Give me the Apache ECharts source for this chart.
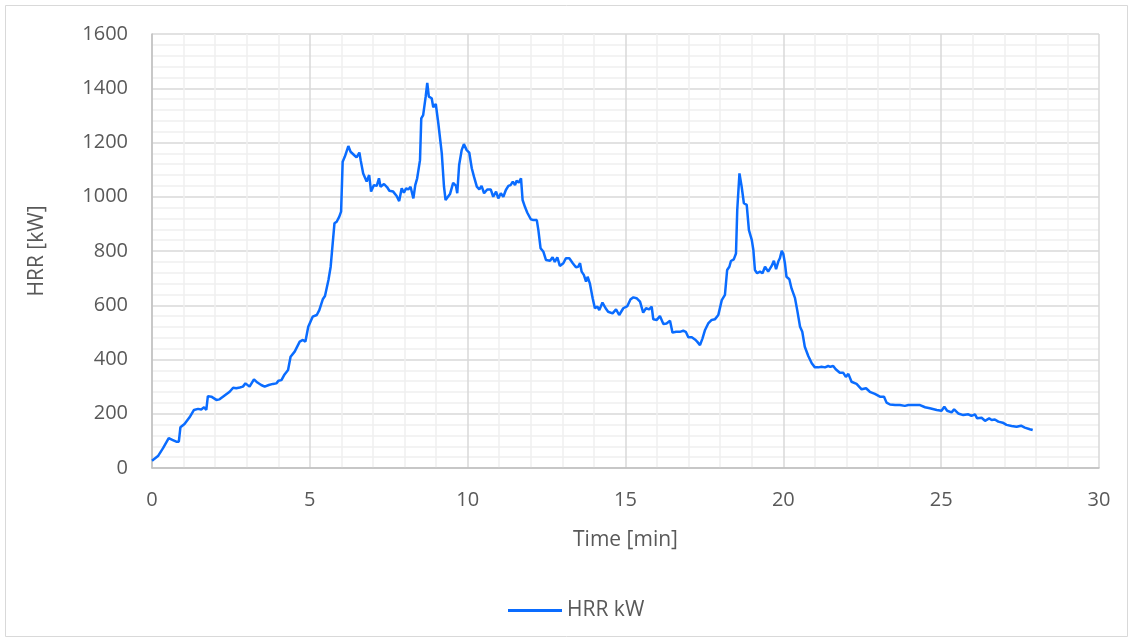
<!DOCTYPE html>
<html>
<head>
<meta charset="utf-8">
<script src="https://cdn.jsdelivr.net/npm/echarts@6/dist/echarts.min.js"></script>
<style>
  html, body { margin: 0; padding: 0; background: #ffffff; }
  #chart { width: 1134px; height: 643px; }
</style>
</head>
<body>
<div id="chart"></div>
<script>
// Heat release rate measurement: time in minutes, HRR in kW
const timeMin = [
  0.00, 0.19, 0.35, 0.53, 0.66, 0.77, 0.85, 0.90, 1.03, 1.19, 1.33, 1.46, 1.56, 1.65, 1.72, 1.77, 1.88, 2.04, 2.14, 2.30,
  2.46, 2.57, 2.67, 2.78, 2.88, 2.96, 3.02, 3.09, 3.23, 3.34, 3.46, 3.57, 3.70, 3.83, 3.94, 4.01, 4.10, 4.20, 4.31, 4.39,
  4.52, 4.68, 4.78, 4.86, 4.95, 5.09, 5.22, 5.30, 5.41, 5.48, 5.59, 5.66, 5.72, 5.78, 5.85, 5.93, 5.99, 6.04, 6.11, 6.22,
  6.29, 6.40, 6.48, 6.57, 6.61, 6.69, 6.80, 6.88, 6.94, 7.03, 7.12, 7.19, 7.24, 7.35, 7.45, 7.52, 7.64, 7.75, 7.83, 7.91,
  7.98, 8.05, 8.12, 8.19, 8.28, 8.34, 8.40, 8.49, 8.53, 8.59, 8.67, 8.72, 8.77, 8.86, 8.91, 8.99, 9.07, 9.18, 9.25, 9.30,
  9.35, 9.44, 9.54, 9.63, 9.67, 9.73, 9.81, 9.88, 9.97, 10.05, 10.13, 10.20, 10.29, 10.37, 10.44, 10.52, 10.62, 10.73, 10.81, 10.90,
  10.97, 11.05, 11.13, 11.21, 11.29, 11.36, 11.43, 11.50, 11.55, 11.62, 11.69, 11.74, 11.82, 11.89, 12.00, 12.08, 12.19, 12.24, 12.31, 12.40,
  12.48, 12.61, 12.69, 12.76, 12.84, 12.92, 13.03, 13.11, 13.22, 13.33, 13.43, 13.50, 13.56, 13.61, 13.68, 13.75, 13.80, 13.87, 13.96, 14.03,
  14.11, 14.17, 14.27, 14.37, 14.45, 14.59, 14.70, 14.80, 14.93, 15.06, 15.16, 15.25, 15.35, 15.46, 15.56, 15.65, 15.75, 15.83, 15.88, 15.99,
  16.09, 16.20, 16.30, 16.41, 16.49, 16.60, 16.72, 16.83, 16.91, 16.99, 17.10, 17.20, 17.27, 17.36, 17.44, 17.52, 17.62, 17.73, 17.83, 17.94,
  18.05, 18.15, 18.22, 18.29, 18.34, 18.43, 18.50, 18.54, 18.61, 18.68, 18.75, 18.84, 18.91, 19.00, 19.05, 19.10, 19.17, 19.26, 19.34, 19.42,
  19.52, 19.63, 19.70, 19.77, 19.84, 19.89, 19.95, 20.00, 20.05, 20.10, 20.19, 20.26, 20.37, 20.44, 20.53, 20.60, 20.68, 20.79, 20.90, 21.00,
  21.11, 21.21, 21.32, 21.42, 21.49, 21.58, 21.66, 21.79, 21.90, 21.98, 22.06, 22.16, 22.32, 22.48, 22.62, 22.74, 22.90, 23.06, 23.19, 23.27,
  23.38, 23.54, 23.69, 23.85, 23.96, 24.12, 24.33, 24.49, 24.64, 24.86, 25.01, 25.10, 25.19, 25.33, 25.41, 25.54, 25.70, 25.86, 25.96, 26.07,
  26.14, 26.28, 26.39, 26.52, 26.60, 26.70, 26.81, 26.95, 27.07, 27.23, 27.39, 27.53, 27.65, 27.81, 27.90
];
const hrrKW = [
  27, 44, 73, 110, 103, 97, 97, 150, 162, 187, 214, 218, 216, 224, 214, 265, 263, 251, 253, 267,
  281, 296, 294, 297, 300, 312, 310, 300, 327, 315, 306, 300, 306, 310, 312, 322, 324, 345, 361, 410,
  429, 466, 472, 466, 521, 558, 564, 582, 622, 634, 693, 742, 748, 902, 908, 926, 945, 1129, 1148, 1187,
  1166, 1154, 1145, 1163, 1135, 1086, 1056, 1080, 1019, 1043, 1040, 1068, 1037, 1047, 1035, 1022, 1019, 1003, 984, 1031,
  1015, 1031, 1027, 1037, 994, 1043, 1068, 1135, 1289, 1301, 1369, 1420, 1369, 1363, 1330, 1342, 1271, 1160, 1037, 988,
  985, 1010, 1051, 1040, 1013, 1117, 1172, 1194, 1172, 1163, 1105, 1074, 1037, 1027, 1040, 1013, 1027, 1027, 1000, 1019,
  994, 1013, 1000, 1025, 1040, 1043, 1056, 1043, 1059, 1052, 1068, 988, 961, 941, 917, 914, 914, 877, 810, 797,
  767, 764, 777, 760, 777, 745, 755, 773, 773, 755, 740, 742, 755, 724, 712, 687, 705, 681, 626, 589,
  595, 582, 610, 589, 576, 570, 585, 564, 589, 597, 622, 629, 626, 613, 573, 589, 585, 595, 548, 546,
  560, 531, 533, 543, 499, 502, 502, 506, 502, 482, 482, 474, 466, 453, 478, 509, 533, 546, 548, 564,
  619, 638, 730, 742, 763, 769, 791, 951, 1086, 1037, 976, 970, 877, 841, 804, 730, 718, 724, 718, 742,
  724, 745, 764, 733, 761, 773, 801, 789, 755, 705, 696, 662, 626, 582, 521, 502, 447, 413, 386, 371,
  371, 373, 371, 376, 373, 376, 364, 351, 351, 336, 347, 318, 310, 290, 294, 281, 273, 263, 263, 241,
  234, 232, 232, 229, 232, 232, 232, 224, 220, 214, 211, 226, 211, 205, 216, 201, 195, 198, 192, 198,
  183, 185, 174, 183, 177, 179, 171, 167, 159, 155, 152, 156, 149, 143, 140
];
const seriesName = 'HRR kW';
const xAxisTitle = 'Time [min]';
const yAxisTitle = 'HRR [kW]';

const points = timeMin.map((t, i) => [t, hrrKW[i]]);

const textColor = '#595959';
const majorGrid = '#d9d9d9';
const minorGrid = '#f0f0f0';
const fontFamily = '"Open Sans", "Noto Sans", sans-serif';

const chart = echarts.init(document.getElementById('chart'), null, { renderer: 'canvas' });
chart.setOption({
  animation: false,
  backgroundColor: '#ffffff',
  textStyle: { fontFamily: fontFamily, color: textColor },
  graphic: [{
    type: 'rect',
    silent: true,
    shape: { x: 5.5, y: 5.5, width: 1122, height: 631 },
    style: { fill: 'none', stroke: '#d9d9d9', lineWidth: 1 }
  }],
  grid: { left: 152, top: 34, right: 35, bottom: 175, containLabel: false },
  legend: {
    data: [seriesName],
    bottom: 17,
    left: 503,
    itemWidth: 54,
    itemHeight: 3,
    itemGap: 10,
    icon: 'rect',
    textStyle: { fontSize: 21, color: textColor, fontFamily: fontFamily }
  },
  xAxis: {
    type: 'value',
    min: 0,
    max: 30,
    interval: 5,
    name: xAxisTitle,
    nameLocation: 'middle',
    nameGap: 62,
    nameTextStyle: { fontSize: 21, color: textColor },
    axisLine: { show: true, lineStyle: { color: '#bfbfbf', width: 1.5 } },
    axisTick: { show: false },
    axisLabel: { fontSize: 20, color: textColor, margin: 22 },
    splitLine: { show: true, lineStyle: { color: majorGrid, width: 1.5 } },
    minorTick: { show: false, splitNumber: 5 },
    minorSplitLine: { show: true, lineStyle: { color: minorGrid, width: 1.5 } }
  },
  yAxis: {
    type: 'value',
    min: 0,
    max: 1600,
    interval: 200,
    name: yAxisTitle,
    nameLocation: 'middle',
    nameGap: 104,
    nameRotate: 90,
    nameTextStyle: { fontSize: 21, color: textColor },
    axisLine: { show: true, lineStyle: { color: '#bfbfbf', width: 1.5 } },
    axisTick: { show: false },
    axisLabel: { fontSize: 20, color: textColor, margin: 24, formatter: (v) => String(v) },
    splitLine: { show: true, lineStyle: { color: majorGrid, width: 1.5 } },
    minorTick: { show: false, splitNumber: 5 },
    minorSplitLine: { show: true, lineStyle: { color: minorGrid, width: 1.5 } }
  },
  series: [{
    name: seriesName,
    type: 'line',
    data: points,
    showSymbol: false,
    symbol: 'none',
    smooth: false,
    lineStyle: { color: '#0a6cff', width: 2.5 },
    itemStyle: { color: '#0a6cff' }
  }]
});
</script>
</body>
</html>
